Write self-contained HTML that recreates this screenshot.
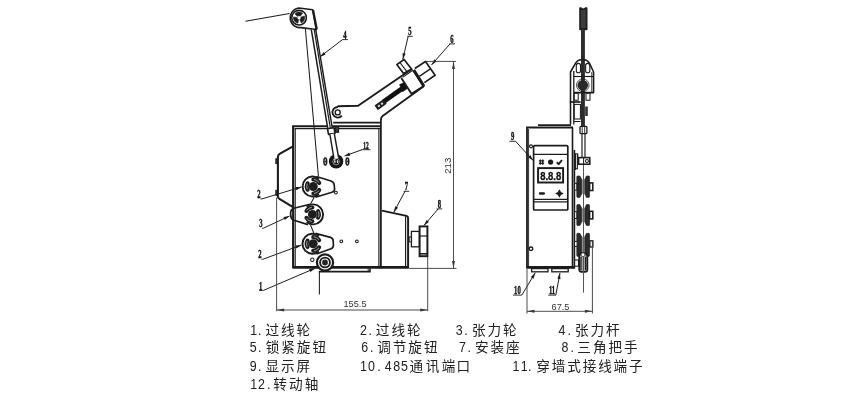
<!DOCTYPE html>
<html lang="zh"><head><meta charset="utf-8"><title>Tensioner diagram</title>
<style>
html,body{margin:0;padding:0;background:#fff}
body{width:850px;height:400px;overflow:hidden;font-family:"Liberation Sans",sans-serif}
svg{display:block;will-change:transform}
.lb{font-family:"Liberation Serif",serif;font-weight:bold;fill:#111}
.dm{font-family:"Liberation Sans",sans-serif;fill:#333}
.lg{font-family:"Liberation Sans",sans-serif;font-size:14.1px;fill:#222}
.cj{font-family:"Liberation Sans","Noto Sans CJK SC",sans-serif;font-size:13.6px;fill:#222}
.led{font-family:"Liberation Sans",sans-serif;font-weight:bold;fill:#111}
</style></head><body>
<svg width="850" height="400" viewBox="0 0 850 400" role="img" aria-label="1.过线轮 2.过线轮 3.张力轮 4.张力杆 5.锁紧旋钮 6.调节旋钮 7.安装座 8.三角把手 9.显示屏 10.485通讯端口 11.穿墙式接线端子 12.转动轴">
<rect width="850" height="400" fill="#fff"/>
<g opacity="0.999">
<line x1="245.5" y1="21.3" x2="289.6" y2="13.6" stroke="#1c1c1c" stroke-width="1.04" stroke-linecap="butt"/>
<path d="M298.9 8 L312.6 9.7 L316.3 29.5 L301.2 27.6 A9.7 9.7 0 1 1 298.9 8Z" fill="none" stroke="#1c1c1c" stroke-width="1.62" stroke-linejoin="round" />
<line x1="313.1" y1="10.2" x2="316.8" y2="29.4" stroke="#1c1c1c" stroke-width="2.21" stroke-linecap="butt"/>
<circle cx="299.1" cy="17.7" r="7.3" fill="#fff" stroke="#1c1c1c" stroke-width="1.56"/>
<path d="M300.91 17.11L304.52 15.94A5.7 5.7 0 0 1 301.24 22.98L299.81 19.46A1.9 1.9 0 0 0 300.91 17.11Z" fill="#1c1c1c" stroke="#1c1c1c" stroke-width="0.5" stroke-linejoin="round"/>
<path d="M298.70 19.56L297.91 23.28A5.7 5.7 0 0 1 293.46 16.91L297.22 17.44A1.9 1.9 0 0 0 298.70 19.56Z" fill="#1c1c1c" stroke="#1c1c1c" stroke-width="0.5" stroke-linejoin="round"/>
<path d="M297.69 16.43L294.86 13.89A5.7 5.7 0 0 1 302.61 13.21L300.27 16.20A1.9 1.9 0 0 0 297.69 16.43Z" fill="#1c1c1c" stroke="#1c1c1c" stroke-width="0.5" stroke-linejoin="round"/>
<line x1="305.4" y1="29" x2="318.4" y2="176" stroke="#1c1c1c" stroke-width="1.04" stroke-linecap="butt"/>
<path d="M293.1 268 L293.1 126.3 L381 126.3" fill="none" stroke="#1c1c1c" stroke-width="2.08" stroke-linejoin="miter" />
<line x1="294.5" y1="128.7" x2="381" y2="128.7" stroke="#1c1c1c" stroke-width="1.23" stroke-linecap="butt"/>
<line x1="295.2" y1="128.4" x2="295.2" y2="266.5" stroke="#1c1c1c" stroke-width="1.17" stroke-linecap="butt"/>
<line x1="378.9" y1="128.4" x2="378.9" y2="266.5" stroke="#1c1c1c" stroke-width="1.17" stroke-linecap="butt"/>
<line x1="380.9" y1="119.5" x2="380.9" y2="268.6" stroke="#1c1c1c" stroke-width="1.76" stroke-linecap="butt"/>
<line x1="292.4" y1="267.4" x2="408.6" y2="267.4" stroke="#1c1c1c" stroke-width="2.6" stroke-linecap="butt"/>
<path d="M318.8 271.6 L370 271.6 L370 268.4" fill="none" stroke="#1c1c1c" stroke-width="1.56" stroke-linejoin="miter" />
<line x1="368.2" y1="268.4" x2="368.2" y2="271.6" stroke="#1c1c1c" stroke-width="0.91" stroke-linecap="butt"/>
<path d="M311.3 29.6 L315.8 30.2 L332.3 128 L327.7 128.6Z" fill="#fff" stroke="#1c1c1c" stroke-width="0.0" stroke-linejoin="round" />
<line x1="311.3" y1="29.4" x2="327.75" y2="128.4" stroke="#1c1c1c" stroke-width="1.49" stroke-linecap="butt"/>
<line x1="314.3" y1="30" x2="330.3" y2="128" stroke="#1c1c1c" stroke-width="1.23" stroke-linecap="butt"/>
<line x1="315.8" y1="30" x2="332.3" y2="128" stroke="#1c1c1c" stroke-width="1.49" stroke-linecap="butt"/>
<path d="M327.5 128.7 L334.0 127.7 L335.0 133.4 L328.5 134.4Z" fill="#fff" stroke="#1c1c1c" stroke-width="1.62" stroke-linejoin="round" />
<rect x="335.5" y="126.7" width="3.1" height="5.6" rx="0" fill="#3a3a3a" stroke="#1c1c1c" stroke-width="1.04"/>
<path d="M293 146.3 L280 153.7 Q277.9 154.8 277.9 157 L277.9 196.5 Q277.9 198 279.4 198.8 L293.5 207.4" fill="none" stroke="#1c1c1c" stroke-width="2.08" stroke-linejoin="round" />
<rect x="275.8" y="158.8" width="1.7" height="4.8" rx="0" fill="#333" stroke="#1c1c1c" stroke-width="0.91"/>
<rect x="275.8" y="190.3" width="1.7" height="5" rx="0" fill="#333" stroke="#1c1c1c" stroke-width="0.91"/>
<circle cx="336.1" cy="161.4" r="7.2" fill="#161616" stroke="#1c1c1c" stroke-width="0.0"/>
<path d="M329.9 134.3 L334.3 133.6 L338.6 158 L334.2 160Z" fill="#fff" stroke="#1c1c1c" stroke-width="0.0" stroke-linejoin="round" />
<line x1="329.9" y1="134.3" x2="334.0" y2="159" stroke="#1c1c1c" stroke-width="1.43" stroke-linecap="butt"/>
<line x1="334.3" y1="133.6" x2="338.6" y2="157.5" stroke="#1c1c1c" stroke-width="1.43" stroke-linecap="butt"/>
<circle cx="336.1" cy="161.6" r="3.3" fill="none" stroke="#bbb" stroke-width="0.72"/>
<ellipse cx="334.9" cy="161.6" rx="0.7" ry="1.7" fill="#ddd"/><ellipse cx="337.5" cy="161.6" rx="0.7" ry="1.7" fill="#ddd"/>
<ellipse cx="325.3" cy="161.5" rx="1.4" ry="3.4" fill="#fff" stroke="#1c1c1c" stroke-width="1.5"/>
<ellipse cx="325.3" cy="161.5" rx="0.7" ry="0.9" fill="#1c1c1c"/>
<ellipse cx="347.4" cy="161.5" rx="1.4" ry="3.4" fill="#fff" stroke="#1c1c1c" stroke-width="1.5"/>
<ellipse cx="347.4" cy="161.5" rx="0.7" ry="0.9" fill="#1c1c1c"/>
<path d="M316.5 176.5 L331 181 Q334 182 334.2 185 L334.6 189 Q334.6 191.5 332 192.3 L315.5 197.2" fill="none" stroke="#1c1c1c" stroke-width="1.69" stroke-linejoin="round" />
<circle cx="335.9" cy="192.6" r="1.4" fill="none" stroke="#1c1c1c" stroke-width="1.04"/>
<path d="M319.03 194.16A10.0 10.0 0 1 1 319.03 178.84" fill="none" stroke="#1c1c1c" stroke-width="1.9"/>
<path d="M307.67 189.75A6.5 6.5 0 0 1 307.67 183.25" fill="none" stroke="#1c1c1c" stroke-width="4.0" stroke-linecap="round"/>
<path d="M313.30 179.60A6.9 6.9 0 0 1 319.28 183.05" fill="none" stroke="#1c1c1c" stroke-width="4.0" stroke-linecap="round"/>
<path d="M319.28 189.95A6.9 6.9 0 0 1 313.30 193.40" fill="none" stroke="#1c1c1c" stroke-width="4.0" stroke-linecap="round"/>
<circle cx="313.3" cy="186.5" r="4.5" fill="#1e1e1e" stroke="#1c1c1c" stroke-width="0.0"/>
<path d="M307.09 189.01A6.7 6.7 0 0 1 307.09 183.99" fill="none" stroke="#c4c4c4" stroke-width="0.8" stroke-linecap="round"/>
<path d="M314.29 179.47A7.1 7.1 0 0 1 318.89 182.13" fill="none" stroke="#c4c4c4" stroke-width="0.8" stroke-linecap="round"/>
<path d="M318.89 190.87A7.1 7.1 0 0 1 314.29 193.53" fill="none" stroke="#c4c4c4" stroke-width="0.8" stroke-linecap="round"/>
<path d="M310 204.3 L294 208.3 Q290.8 209.3 290.6 212.5 L290.8 216 Q291 219.2 294 220.2 L308 224.6" fill="none" stroke="#1c1c1c" stroke-width="1.69" stroke-linejoin="round" />
<path d="M306.67 206.74A10.0 10.0 0 1 1 306.67 222.06" fill="none" stroke="#1c1c1c" stroke-width="1.9"/>
<path d="M318.03 211.15A6.5 6.5 0 0 1 318.03 217.65" fill="none" stroke="#1c1c1c" stroke-width="4.0" stroke-linecap="round"/>
<path d="M312.40 221.30A6.9 6.9 0 0 1 306.42 217.85" fill="none" stroke="#1c1c1c" stroke-width="4.0" stroke-linecap="round"/>
<path d="M306.42 210.95A6.9 6.9 0 0 1 312.40 207.50" fill="none" stroke="#1c1c1c" stroke-width="4.0" stroke-linecap="round"/>
<circle cx="312.40000000000003" cy="214.4" r="4.5" fill="#1e1e1e" stroke="#1c1c1c" stroke-width="0.0"/>
<path d="M318.61 211.89A6.7 6.7 0 0 1 318.61 216.91" fill="none" stroke="#c4c4c4" stroke-width="0.8" stroke-linecap="round"/>
<path d="M311.41 221.43A7.1 7.1 0 0 1 306.81 218.77" fill="none" stroke="#c4c4c4" stroke-width="0.8" stroke-linecap="round"/>
<path d="M306.81 210.03A7.1 7.1 0 0 1 311.41 207.37" fill="none" stroke="#c4c4c4" stroke-width="0.8" stroke-linecap="round"/>
<path d="M315.5 233.4 L330.5 237.4 Q333 238.2 333.2 241 L333.4 245.5 Q333.3 248 331 248.8 L316.5 254" fill="none" stroke="#1c1c1c" stroke-width="1.69" stroke-linejoin="round" />
<path d="M318.93 251.46A10.0 10.0 0 1 1 318.93 236.14" fill="none" stroke="#1c1c1c" stroke-width="1.9"/>
<path d="M307.57 247.05A6.5 6.5 0 0 1 307.57 240.55" fill="none" stroke="#1c1c1c" stroke-width="4.0" stroke-linecap="round"/>
<path d="M313.20 236.90A6.9 6.9 0 0 1 319.18 240.35" fill="none" stroke="#1c1c1c" stroke-width="4.0" stroke-linecap="round"/>
<path d="M319.18 247.25A6.9 6.9 0 0 1 313.20 250.70" fill="none" stroke="#1c1c1c" stroke-width="4.0" stroke-linecap="round"/>
<circle cx="313.2" cy="243.8" r="4.5" fill="#1e1e1e" stroke="#1c1c1c" stroke-width="0.0"/>
<path d="M306.99 246.31A6.7 6.7 0 0 1 306.99 241.29" fill="none" stroke="#c4c4c4" stroke-width="0.8" stroke-linecap="round"/>
<path d="M314.19 236.77A7.1 7.1 0 0 1 318.79 239.43" fill="none" stroke="#c4c4c4" stroke-width="0.8" stroke-linecap="round"/>
<path d="M318.79 248.17A7.1 7.1 0 0 1 314.19 250.83" fill="none" stroke="#c4c4c4" stroke-width="0.8" stroke-linecap="round"/>
<line x1="314.2" y1="197.3" x2="310.4" y2="204.2" stroke="#1c1c1c" stroke-width="1.04" stroke-linecap="butt"/>
<line x1="310.5" y1="225.0" x2="313.9" y2="233.2" stroke="#1c1c1c" stroke-width="1.04" stroke-linecap="butt"/>
<circle cx="312.3" cy="259.8" r="1.7" fill="none" stroke="#1c1c1c" stroke-width="1.04"/>
<circle cx="341.3" cy="241.3" r="1.4" fill="none" stroke="#1c1c1c" stroke-width="1.04"/>
<circle cx="356.9" cy="241.3" r="1.4" fill="none" stroke="#1c1c1c" stroke-width="1.04"/>
<circle cx="325" cy="262.5" r="8.1" fill="#fff" stroke="#1c1c1c" stroke-width="2.21"/>
<circle cx="325" cy="262.5" r="4.9" fill="none" stroke="#1c1c1c" stroke-width="1.89"/>
<circle cx="325" cy="262.5" r="2.9" fill="#262626" stroke="#1c1c1c" stroke-width="0.0"/>
<line x1="319.4" y1="271.9" x2="319.4" y2="294.4" stroke="#1c1c1c" stroke-width="1.04" stroke-linecap="butt"/>
<path d="M381.9 210.6 L406.5 215.9 Q408.1 216.3 408.1 218 L408.1 268" fill="none" stroke="#1c1c1c" stroke-width="1.95" stroke-linejoin="round" />
<line x1="405.6" y1="216.3" x2="405.6" y2="267" stroke="#1c1c1c" stroke-width="1.17" stroke-linecap="butt"/>
<rect x="409.2" y="236.9" width="2.4" height="5" rx="0" fill="none" stroke="#1c1c1c" stroke-width="0.91"/>
<rect x="411.4" y="231.4" width="8" height="15.4" rx="0" fill="none" stroke="#1c1c1c" stroke-width="1.3"/>
<rect x="419.6" y="226.4" width="7.8" height="29.8" rx="0" fill="none" stroke="#1c1c1c" stroke-width="1.95"/>
<line x1="419.6" y1="236" x2="427.4" y2="236" stroke="#1c1c1c" stroke-width="1.17" stroke-linecap="butt"/>
<line x1="419.6" y1="253.8" x2="427.4" y2="253.8" stroke="#1c1c1c" stroke-width="1.56" stroke-linecap="butt"/>
<path d="M337.6 106.3 L358.1 105.7 L412.2 68.7" fill="none" stroke="#1c1c1c" stroke-width="1.95" stroke-linejoin="round" />
<line x1="402.6" y1="77.4" x2="412.8" y2="70.3" stroke="#1c1c1c" stroke-width="1.04" stroke-linecap="butt"/>
<path d="M333.2 122.6 L380.9 122.6 M380.9 120 Q380.9 117.2 382.6 116 L423.8 86.3" fill="none" stroke="#1c1c1c" stroke-width="1.89" stroke-linejoin="round" />
<path d="M341.9 115.6 A5.3 5.3 0 1 1 338 107" fill="none" stroke="#1c1c1c" stroke-width="1.82" stroke-linejoin="round" />
<circle cx="337.7" cy="112.4" r="2.5" fill="none" stroke="#1c1c1c" stroke-width="1.37"/>
<line x1="383.6" y1="101.6" x2="402.2" y2="88.5" stroke="#111" stroke-width="4.81" stroke-linecap="butt"/>
<path d="M399.6 84.6 L404.2 82.6 L407.2 88.6 L402.6 91.8Z" fill="#111" stroke="#1c1c1c" stroke-width="0.65" stroke-linejoin="round" />
<path d="M375.4 105.6 L383.4 100 L386 103.6 L378 109.3Z" fill="#222" stroke="#1c1c1c" stroke-width="1.17" stroke-linejoin="round" />
<rect x="-1" y="-1" width="2" height="2" fill="#ddd" transform="translate(378.9,105.9) rotate(-35)"/><rect x="-1" y="-1" width="2" height="2" fill="#ddd" transform="translate(382,103.7) rotate(-35)"/>
<path d="M396.8 64.6 L404.1 59.5 L411.5 69.1 L403.6 73.6Z" fill="#fff" stroke="#1c1c1c" stroke-width="1.69" stroke-linejoin="round" />
<line x1="399.9" y1="62.5" x2="406.9" y2="71.7" stroke="#1c1c1c" stroke-width="1.17" stroke-linecap="butt"/>
<path d="M401.3 78.1 L411.5 93.8 L423.8 86 L413.7 70.2" fill="none" stroke="#1c1c1c" stroke-width="1.82" stroke-linejoin="round" />
<line x1="413.7" y1="70.2" x2="423.8" y2="86" stroke="#1c1c1c" stroke-width="3.12" stroke-linecap="butt"/>
<path d="M414.8 68.5 L425.5 61.5 L435.1 75.3 L424.4 82.6" fill="none" stroke="#1c1c1c" stroke-width="1.69" stroke-linejoin="round" />
<line x1="419.3" y1="76.4" x2="430" y2="69.1" stroke="#1c1c1c" stroke-width="1.3" stroke-linecap="butt"/>
<text transform="translate(345,38.6) scale(0.56,1)" text-anchor="middle" class="lb" font-size="11.8" stroke="#111" stroke-width="0.45">4</text>
<line x1="342.3" y1="39.6" x2="347.9" y2="39.6" stroke="#1c1c1c" stroke-width="0.91" stroke-linecap="butt"/>
<line x1="342.5" y1="39.6" x2="319.9" y2="56.9" stroke="#1c1c1c" stroke-width="0.98" stroke-linecap="butt"/>
<polygon points="319.90,56.90 323.69,51.98 325.64,54.52" fill="#1c1c1c"/>
<text transform="translate(410,35.4) scale(0.56,1)" text-anchor="middle" class="lb" font-size="11.8" stroke="#111" stroke-width="0.45">5</text>
<line x1="407.3" y1="36.3" x2="412.7" y2="36.3" stroke="#1c1c1c" stroke-width="0.91" stroke-linecap="butt"/>
<line x1="408.2" y1="36.3" x2="402.8" y2="59.3" stroke="#1c1c1c" stroke-width="0.98" stroke-linecap="butt"/>
<polygon points="402.80,59.30 402.61,53.09 405.73,53.82" fill="#1c1c1c"/>
<text transform="translate(452,43) scale(0.56,1)" text-anchor="middle" class="lb" font-size="11.8" stroke="#111" stroke-width="0.45">6</text>
<line x1="449.3" y1="43.9" x2="455" y2="43.9" stroke="#1c1c1c" stroke-width="0.91" stroke-linecap="butt"/>
<line x1="450" y1="43.9" x2="431.5" y2="64.9" stroke="#1c1c1c" stroke-width="0.98" stroke-linecap="butt"/>
<polygon points="431.50,64.90 434.27,59.34 436.67,61.46" fill="#1c1c1c"/>
<text transform="translate(366,148.9) scale(0.56,1)" text-anchor="middle" class="lb" font-size="9.6" stroke="#111" stroke-width="0.45">12</text>
<line x1="361.5" y1="149.7" x2="370.5" y2="149.7" stroke="#1c1c1c" stroke-width="0.91" stroke-linecap="butt"/>
<line x1="362" y1="149.7" x2="344.6" y2="156.0" stroke="#1c1c1c" stroke-width="0.98" stroke-linecap="butt"/>
<polygon points="344.60,156.00 349.23,152.62 350.32,155.63" fill="#1c1c1c"/>
<text transform="translate(258.8,198) scale(0.56,1)" text-anchor="middle" class="lb" font-size="11.8" stroke="#111" stroke-width="0.45">2</text>
<line x1="260.5" y1="198.9" x2="262" y2="198.9" stroke="#1c1c1c" stroke-width="0.91" stroke-linecap="butt"/>
<line x1="262" y1="198.9" x2="301.6" y2="186.9" stroke="#1c1c1c" stroke-width="0.98" stroke-linecap="butt"/>
<polygon points="301.60,186.90 296.32,190.17 295.39,187.11" fill="#1c1c1c"/>
<text transform="translate(260.8,227.3) scale(0.56,1)" text-anchor="middle" class="lb" font-size="11.8" stroke="#111" stroke-width="0.45">3</text>
<line x1="262" y1="228.2" x2="263.4" y2="228.2" stroke="#1c1c1c" stroke-width="0.91" stroke-linecap="butt"/>
<line x1="263.4" y1="228.2" x2="289.6" y2="216" stroke="#1c1c1c" stroke-width="0.98" stroke-linecap="butt"/>
<polygon points="289.60,216.00 284.84,219.98 283.49,217.08" fill="#1c1c1c"/>
<text transform="translate(259.8,258.4) scale(0.56,1)" text-anchor="middle" class="lb" font-size="11.8" stroke="#111" stroke-width="0.45">2</text>
<line x1="261.4" y1="259.3" x2="262.8" y2="259.3" stroke="#1c1c1c" stroke-width="0.91" stroke-linecap="butt"/>
<line x1="262.8" y1="259.3" x2="301.5" y2="245" stroke="#1c1c1c" stroke-width="0.98" stroke-linecap="butt"/>
<polygon points="301.50,245.00 296.43,248.58 295.32,245.58" fill="#1c1c1c"/>
<text transform="translate(260.6,289.5) scale(0.56,1)" text-anchor="middle" class="lb" font-size="11.8" stroke="#111" stroke-width="0.45">1</text>
<line x1="259" y1="290.4" x2="263.4" y2="290.4" stroke="#1c1c1c" stroke-width="0.91" stroke-linecap="butt"/>
<line x1="263.4" y1="290.4" x2="315.3" y2="268.2" stroke="#1c1c1c" stroke-width="0.98" stroke-linecap="butt"/>
<polygon points="315.30,268.20 310.41,272.03 309.15,269.09" fill="#1c1c1c"/>
<text transform="translate(406.3,190.3) scale(0.56,1)" text-anchor="middle" class="lb" font-size="11.8" stroke="#111" stroke-width="0.45">7</text>
<line x1="403.6" y1="191.3" x2="409.2" y2="191.3" stroke="#1c1c1c" stroke-width="0.91" stroke-linecap="butt"/>
<line x1="405" y1="191.3" x2="393.8" y2="212.2" stroke="#1c1c1c" stroke-width="0.98" stroke-linecap="butt"/>
<polygon points="393.80,212.20 395.22,206.16 398.04,207.67" fill="#1c1c1c"/>
<text transform="translate(439.4,208.0) scale(0.56,1)" text-anchor="middle" class="lb" font-size="11.8" stroke="#111" stroke-width="0.45">8</text>
<line x1="436.6" y1="208.9" x2="442.2" y2="208.9" stroke="#1c1c1c" stroke-width="0.91" stroke-linecap="butt"/>
<line x1="438.2" y1="208.9" x2="423.9" y2="225.5" stroke="#1c1c1c" stroke-width="0.98" stroke-linecap="butt"/>
<polygon points="423.90,225.50 426.60,219.91 429.03,222.00" fill="#1c1c1c"/>
<line x1="276.6" y1="197.5" x2="276.6" y2="311.2" stroke="#3a3a3a" stroke-width="0.91" stroke-linecap="butt"/>
<line x1="427.7" y1="256.5" x2="427.7" y2="311.2" stroke="#3a3a3a" stroke-width="0.91" stroke-linecap="butt"/>
<line x1="276.6" y1="310" x2="427.7" y2="310" stroke="#3a3a3a" stroke-width="0.91" stroke-linecap="butt"/>
<polygon points="276.60,310.00 284.10,308.50 284.10,311.50" fill="#3a3a3a"/>
<polygon points="427.70,310.00 420.20,311.50 420.20,308.50" fill="#3a3a3a"/>
<text x="355" y="307.2" text-anchor="middle" class="dm" font-size="9.2">155.5</text>
<line x1="425.6" y1="61.4" x2="456" y2="61.4" stroke="#3a3a3a" stroke-width="0.91" stroke-linecap="butt"/>
<line x1="408.6" y1="268.4" x2="456.5" y2="268.4" stroke="#3a3a3a" stroke-width="0.91" stroke-linecap="butt"/>
<line x1="453.5" y1="61.4" x2="453.5" y2="268.4" stroke="#3a3a3a" stroke-width="0.91" stroke-linecap="butt"/>
<polygon points="453.50,61.40 455.00,68.90 452.00,68.90" fill="#3a3a3a"/>
<polygon points="453.50,268.40 452.00,260.90 455.00,260.90" fill="#3a3a3a"/>
<text transform="translate(451.1,165.7) rotate(-90)" text-anchor="middle" class="dm" font-size="9.8">213</text>
<path d="M579.2 8 Q579.2 7.3 580 7.3 L581.2 7.3 Q583.3 9.6 585.4 7.3 L586.7 7.3 Q587.5 7.3 587.5 8 L587.5 29.4 Q587.5 30.2 586.7 30.2 L580 30.2 Q579.2 30.2 579.2 29.4Z" fill="#1f1f1f" stroke="#1c1c1c" stroke-width="0.0" stroke-linejoin="round" />
<rect x="580.9" y="10" width="4.9" height="18" rx="0" fill="#3c3c3c" stroke="#1c1c1c" stroke-width="0.0"/>
<rect x="581.0" y="29" width="3.9" height="98.5" rx="0" fill="#2c2c2c" stroke="#1c1c1c" stroke-width="0.0"/>
<path d="M570.5 124.4 L570.5 72 L575.6 63.2 Q577.6 59.7 581 59.7 L584 59.7 Q587.4 59.7 589.4 63.2 L593.6 72 L593.6 92.6 L574 92.6" fill="none" stroke="#1c1c1c" stroke-width="1.56" stroke-linejoin="round" />
<line x1="573.8" y1="71" x2="573.8" y2="124.4" stroke="#1c1c1c" stroke-width="1.3" stroke-linecap="butt"/>
<line x1="591.8" y1="72" x2="591.8" y2="92.6" stroke="#1c1c1c" stroke-width="0.91" stroke-linecap="butt"/>
<line x1="573.8" y1="76.5" x2="593.6" y2="76.5" stroke="#1c1c1c" stroke-width="1.17" stroke-linecap="butt"/>
<rect x="576.3" y="63.4" width="4.2" height="9.4" rx="2.1" fill="none" stroke="#1c1c1c" stroke-width="1.1"/>
<rect x="585.6" y="63.4" width="4.2" height="9.4" rx="2.1" fill="none" stroke="#1c1c1c" stroke-width="1.1"/>
<circle cx="582.8" cy="85.2" r="5.3" fill="#2a2a2a" stroke="#1c1c1c" stroke-width="0.0"/>
<circle cx="582.8" cy="85.2" r="6.3" fill="none" stroke="#1c1c1c" stroke-width="0.78"/>
<rect x="574.2" y="93.2" width="4" height="7" rx="0" fill="none" stroke="#1c1c1c" stroke-width="1.04"/>
<rect x="586" y="93.2" width="4" height="7" rx="0" fill="none" stroke="#1c1c1c" stroke-width="1.04"/>
<line x1="569.8" y1="102" x2="580.6" y2="102" stroke="#1c1c1c" stroke-width="1.69" stroke-linecap="butt"/>
<rect x="574.2" y="104.4" width="6.2" height="14.6" rx="0" fill="none" stroke="#1c1c1c" stroke-width="1.04"/>
<rect x="585.2" y="106.5" width="2.6" height="9.5" rx="0" fill="#333" stroke="#1c1c1c" stroke-width="0.0"/>
<line x1="574" y1="121.5" x2="580.5" y2="121.5" stroke="#1c1c1c" stroke-width="1.04" stroke-linecap="butt"/>
<rect x="580" y="126.3" width="6.9" height="7.4" rx="1" fill="#fff" stroke="#1c1c1c" stroke-width="1.3"/>
<line x1="582.2" y1="126.3" x2="582.2" y2="133.7" stroke="#1c1c1c" stroke-width="0.91" stroke-linecap="butt"/>
<line x1="584.7" y1="126.3" x2="584.7" y2="133.7" stroke="#1c1c1c" stroke-width="0.91" stroke-linecap="butt"/>
<line x1="582" y1="133.7" x2="582" y2="158" stroke="#1c1c1c" stroke-width="1.17" stroke-linecap="butt"/>
<line x1="585" y1="133.7" x2="585" y2="158" stroke="#1c1c1c" stroke-width="1.17" stroke-linecap="butt"/>
<line x1="583.5" y1="158" x2="583.5" y2="292.4" stroke="#555" stroke-width="1.04" stroke-linecap="butt"/>
<rect x="578.6" y="157.6" width="11.2" height="6.6" rx="0" fill="#fff" stroke="#1c1c1c" stroke-width="1.56"/>
<circle cx="587" cy="161" r="1.5" fill="none" stroke="#1c1c1c" stroke-width="1.04"/>
<line x1="583.6" y1="157.6" x2="583.6" y2="164.2" stroke="#1c1c1c" stroke-width="1.04" stroke-linecap="butt"/>
<path d="M527 268 L527 127.5 L573 127.5" fill="none" stroke="#1c1c1c" stroke-width="1.82" stroke-linejoin="miter" />
<line x1="528.6" y1="129" x2="528.6" y2="266" stroke="#1c1c1c" stroke-width="0.91" stroke-linecap="butt"/>
<line x1="538" y1="125.1" x2="571" y2="125.1" stroke="#1c1c1c" stroke-width="1.69" stroke-linecap="butt"/>
<line x1="572.5" y1="127.5" x2="572.5" y2="268.5" stroke="#1c1c1c" stroke-width="1.62" stroke-linecap="butt"/>
<line x1="574.4" y1="150" x2="574.4" y2="268.5" stroke="#1c1c1c" stroke-width="1.62" stroke-linecap="butt"/>
<line x1="526.4" y1="267.4" x2="574.4" y2="267.4" stroke="#1c1c1c" stroke-width="2.6" stroke-linecap="butt"/>
<rect x="575.2" y="153.8" width="2.2" height="15" rx="0" fill="none" stroke="#1c1c1c" stroke-width="1.04"/>
<line x1="575.6" y1="153.8" x2="575.6" y2="170" stroke="#1c1c1c" stroke-width="1.04" stroke-linecap="butt"/>
<line x1="577.8" y1="153.8" x2="577.8" y2="160" stroke="#1c1c1c" stroke-width="1.04" stroke-linecap="butt"/>
<rect x="531.6" y="268.6" width="16.4" height="3.2" rx="0" fill="none" stroke="#1c1c1c" stroke-width="1.3"/>
<rect x="551.8" y="268.6" width="16.4" height="3.2" rx="0" fill="none" stroke="#1c1c1c" stroke-width="1.3"/>
<circle cx="531" cy="248.8" r="1.8" fill="none" stroke="#1c1c1c" stroke-width="1.37"/>
<circle cx="531" cy="146.3" r="1.5" fill="none" stroke="#1c1c1c" stroke-width="1.17"/>
<rect x="533.6" y="145.6" width="34.2" height="64.4" rx="1" fill="none" stroke="#1c1c1c" stroke-width="1.69"/>
<line x1="533.6" y1="154.4" x2="567.8" y2="154.4" stroke="#1c1c1c" stroke-width="1.3" stroke-linecap="butt"/>
<line x1="533.6" y1="199.4" x2="567.8" y2="199.4" stroke="#1c1c1c" stroke-width="1.17" stroke-linecap="butt"/>
<line x1="533.6" y1="201.9" x2="567.8" y2="201.9" stroke="#1c1c1c" stroke-width="1.17" stroke-linecap="butt"/>
<rect x="538.1" y="168.1" width="25" height="14.4" rx="0" fill="none" stroke="#1c1c1c" stroke-width="1.95"/>
<text x="550.7" y="179.5" text-anchor="middle" class="led" font-size="10.8" stroke="#111" stroke-width="0.35" textLength="21" lengthAdjust="spacingAndGlyphs">8.8.8</text>
<line x1="540.3" y1="159.5" x2="540.3" y2="164.7" stroke="#1c1c1c" stroke-width="1.3" stroke-linecap="butt"/>
<line x1="538.9" y1="160.9" x2="544.1" y2="160.9" stroke="#1c1c1c" stroke-width="1.3" stroke-linecap="butt"/>
<line x1="542.7" y1="159.5" x2="542.7" y2="164.7" stroke="#1c1c1c" stroke-width="1.3" stroke-linecap="butt"/>
<line x1="538.9" y1="163.29999999999998" x2="544.1" y2="163.29999999999998" stroke="#1c1c1c" stroke-width="1.3" stroke-linecap="butt"/>
<circle cx="550.6" cy="162.1" r="2.6" fill="#1c1c1c" stroke="#1c1c1c" stroke-width="0.0"/>
<path d="M556.8 162.2 L558.7 164.1 L562 160" fill="none" stroke="#1c1c1c" stroke-width="1.95" stroke-linejoin="round" />
<rect x="538.8" y="192.3" width="6.2" height="2.4" rx="1.1" fill="#1c1c1c" stroke="#1c1c1c" stroke-width="0.0"/>
<path d="M559.4 190.2 L560.5 192.4 L562.7 193.5 L560.5 194.6 L559.4 196.8 L558.3 194.6 L556.1 193.5 L558.3 192.4Z" fill="#1c1c1c" stroke="#1c1c1c" stroke-width="1.17" stroke-linejoin="round" />
<path d="M576.8 176.8 Q576.8 176 577.5999999999999 176 L579.8 176 L581.9 179.8 L581.9 193.6 L579.8 197.4 L577.5999999999999 197.4 Q576.8 197.4 576.8 196.6Z" fill="#2a2a2a" stroke="#1c1c1c" stroke-width="0.65" stroke-linejoin="round" />
<path d="M589.5 176.8 Q589.5 176 588.7 176 L586.5 176 L584.7 179.8 L584.7 193.6 L586.5 197.4 L588.7 197.4 Q589.5 197.4 589.5 196.6Z" fill="#2a2a2a" stroke="#1c1c1c" stroke-width="0.65" stroke-linejoin="round" />
<rect x="581.9" y="179.8" width="1.3" height="13.800000000000006" rx="0" fill="#909090" stroke="#1c1c1c" stroke-width="0.0"/>
<rect x="574.6" y="183.29999999999998" width="2.2" height="6.8" rx="0" fill="#fff" stroke="#1c1c1c" stroke-width="1.04"/>
<rect x="589.6" y="182.89999999999998" width="3.2" height="7.6" rx="0" fill="#fff" stroke="#1c1c1c" stroke-width="1.56"/>
<path d="M576.8 205.4 Q576.8 204.6 577.5999999999999 204.6 L579.8 204.6 L581.9 208.4 L581.9 221.79999999999998 L579.8 225.6 L577.5999999999999 225.6 Q576.8 225.6 576.8 224.79999999999998Z" fill="#2a2a2a" stroke="#1c1c1c" stroke-width="0.65" stroke-linejoin="round" />
<path d="M589.5 205.4 Q589.5 204.6 588.7 204.6 L586.5 204.6 L584.7 208.4 L584.7 221.79999999999998 L586.5 225.6 L588.7 225.6 Q589.5 225.6 589.5 224.79999999999998Z" fill="#2a2a2a" stroke="#1c1c1c" stroke-width="0.65" stroke-linejoin="round" />
<rect x="581.9" y="208.4" width="1.3" height="13.4" rx="0" fill="#909090" stroke="#1c1c1c" stroke-width="0.0"/>
<rect x="574.6" y="211.7" width="2.2" height="6.8" rx="0" fill="#fff" stroke="#1c1c1c" stroke-width="1.04"/>
<rect x="589.6" y="211.29999999999998" width="3.2" height="7.6" rx="0" fill="#fff" stroke="#1c1c1c" stroke-width="1.56"/>
<path d="M576.8 234.10000000000002 Q576.8 233.3 577.5999999999999 233.3 L579.8 233.3 L581.9 237.10000000000002 L581.9 252.59999999999997 L579.8 256.4 L577.5999999999999 256.4 Q576.8 256.4 576.8 255.59999999999997Z" fill="#2a2a2a" stroke="#1c1c1c" stroke-width="0.65" stroke-linejoin="round" />
<path d="M589.5 234.10000000000002 Q589.5 233.3 588.7 233.3 L586.5 233.3 L584.7 237.10000000000002 L584.7 252.59999999999997 L586.5 256.4 L588.7 256.4 Q589.5 256.4 589.5 255.59999999999997Z" fill="#2a2a2a" stroke="#1c1c1c" stroke-width="0.65" stroke-linejoin="round" />
<rect x="581.9" y="237.10000000000002" width="1.3" height="15.499999999999966" rx="0" fill="#909090" stroke="#1c1c1c" stroke-width="0.0"/>
<rect x="574.5" y="241.4" width="2.6" height="5" rx="0" fill="#fff" stroke="#1c1c1c" stroke-width="1.04"/>
<rect x="589.9" y="240.8" width="3.0" height="6.2" rx="0" fill="#fff" stroke="#1c1c1c" stroke-width="1.3"/>
<path d="M579.2 257 Q579.2 253.2 583.2 253.2 Q587.4 253.2 587.4 257 L587.4 269.4 Q587.4 271.8 585 271.8 L581.6 271.8 Q579.2 271.8 579.2 269.4Z" fill="#a5a5a5" stroke="#1c1c1c" stroke-width="1.69" stroke-linejoin="round" />
<line x1="581.0" y1="257" x2="581.0" y2="270" stroke="#1c1c1c" stroke-width="1.17" stroke-linecap="butt"/>
<line x1="585.6" y1="257" x2="585.6" y2="270" stroke="#1c1c1c" stroke-width="1.17" stroke-linecap="butt"/>
<circle cx="583.0" cy="254.7" r="1.9" fill="#fff" stroke="#1c1c1c" stroke-width="0.65"/>
<rect x="574.7" y="260" width="3.8" height="6.2" rx="0" fill="#fff" stroke="#1c1c1c" stroke-width="1.04"/>
<line x1="583.5" y1="257" x2="583.5" y2="292.4" stroke="#555" stroke-width="1.04" stroke-linecap="butt"/>
<text transform="translate(512.6,140.4) scale(0.56,1)" text-anchor="middle" class="lb" font-size="11.8" stroke="#111" stroke-width="0.45">9</text>
<line x1="509.4" y1="141.3" x2="515.8" y2="141.3" stroke="#1c1c1c" stroke-width="0.91" stroke-linecap="butt"/>
<line x1="515.6" y1="141.3" x2="533.2" y2="160.6" stroke="#1c1c1c" stroke-width="0.98" stroke-linecap="butt"/>
<polygon points="533.20,160.60 527.97,157.24 530.34,155.09" fill="#1c1c1c"/>
<text transform="translate(517.4,294.4) scale(0.56,1)" text-anchor="middle" class="lb" font-size="11.8" stroke="#111" stroke-width="0.45">10</text>
<line x1="513" y1="295.1" x2="521.8" y2="295.1" stroke="#1c1c1c" stroke-width="0.91" stroke-linecap="butt"/>
<line x1="521.8" y1="295.1" x2="535.3" y2="272.7" stroke="#1c1c1c" stroke-width="0.98" stroke-linecap="butt"/>
<polygon points="535.30,272.70 533.57,278.66 530.83,277.01" fill="#1c1c1c"/>
<text transform="translate(552,294.4) scale(0.56,1)" text-anchor="middle" class="lb" font-size="11.8" stroke="#111" stroke-width="0.45">11</text>
<line x1="548.2" y1="295.1" x2="556" y2="295.1" stroke="#1c1c1c" stroke-width="0.91" stroke-linecap="butt"/>
<line x1="555.8" y1="295.1" x2="560" y2="273" stroke="#1c1c1c" stroke-width="0.98" stroke-linecap="butt"/>
<polygon points="560.00,273.00 560.45,279.19 557.31,278.60" fill="#1c1c1c"/>
<line x1="527" y1="268.8" x2="527" y2="313.6" stroke="#3a3a3a" stroke-width="0.91" stroke-linecap="butt"/>
<line x1="592.4" y1="241" x2="592.4" y2="313.6" stroke="#3a3a3a" stroke-width="0.91" stroke-linecap="butt"/>
<line x1="527" y1="311.3" x2="592.4" y2="311.3" stroke="#3a3a3a" stroke-width="0.91" stroke-linecap="butt"/>
<polygon points="527.00,311.30 534.50,309.80 534.50,312.80" fill="#3a3a3a"/>
<polygon points="592.40,311.30 584.90,312.80 584.90,309.80" fill="#3a3a3a"/>
<text x="560.5" y="309.6" text-anchor="middle" class="dm" font-size="9.2">67.5</text>
<text transform="translate(250.15,334.5) scale(0.88,1)" x="0.0 9.03" y="0" class="lg">1.</text>
<text x="265.55" y="334.5" class="cj" textLength="44.65">过线轮</text>
<text transform="translate(359.9,334.5) scale(0.88,1)" x="0.0 9.66" y="0" class="lg">2.</text>
<text x="375.85" y="334.5" class="cj" textLength="44.65">过线轮</text>
<text transform="translate(455.7,334.5) scale(0.88,1)" x="0.0 9.77" y="0" class="lg">3.</text>
<text x="472.05" y="334.5" class="cj" textLength="44.65">张力轮</text>
<text transform="translate(558.6,334.5) scale(0.88,1)" x="0.0 10.11" y="0" class="lg">4.</text>
<text x="575.0" y="334.5" class="cj" textLength="44.65">张力杆</text>
<text transform="translate(249.8,352.2) scale(0.88,1)" x="0.0 9.43" y="0" class="lg">5.</text>
<text x="265.8" y="352.2" class="cj" textLength="60.2">锁紧旋钮</text>
<text transform="translate(361.3,352.2) scale(0.88,1)" x="0.0 9.77" y="0" class="lg">6.</text>
<text x="377.3" y="352.2" class="cj" textLength="60.2">调节旋钮</text>
<text transform="translate(458.9,352.2) scale(0.88,1)" x="0.0 9.89" y="0" class="lg">7.</text>
<text x="474.95" y="352.2" class="cj" textLength="44.65">安装座</text>
<text transform="translate(561.5,352.2) scale(0.88,1)" x="0.0 10.23" y="0" class="lg">8.</text>
<text x="577.35" y="352.2" class="cj" textLength="60.2">三角把手</text>
<text transform="translate(249.8,371.1) scale(0.88,1)" x="0.0 9.43" y="0" class="lg">9.</text>
<text x="265.55" y="371.1" class="cj" textLength="44.65">显示屏</text>
<text transform="translate(359.95,371.1) scale(0.88,1)" x="0.0 9.03 19.6 28.24 37.9 46.65" y="0" class="lg">10.485</text>
<text x="409.55" y="371.1" class="cj" textLength="13.55">通</text>
<text x="425.75" y="371.1" class="cj" textLength="13.55">讯</text>
<text x="441.7" y="371.1" class="cj" textLength="13.55">端</text>
<text x="456.5" y="371.1" class="cj" textLength="13.55">口</text>
<text transform="translate(512.45,371.1) scale(0.88,1)" x="0.0 9.32 17.67" y="0" class="lg">11.</text>
<text x="536.2" y="371.1" class="cj" textLength="106.5">穿墙式接线端子</text>
<text transform="translate(250.15,388.9) scale(0.88,1)" x="0.0 8.92 19.03" y="0" class="lg">12.</text>
<text x="273.2" y="388.9" class="cj" textLength="45.1">转动轴</text>
</g>
</svg>
</body></html>
